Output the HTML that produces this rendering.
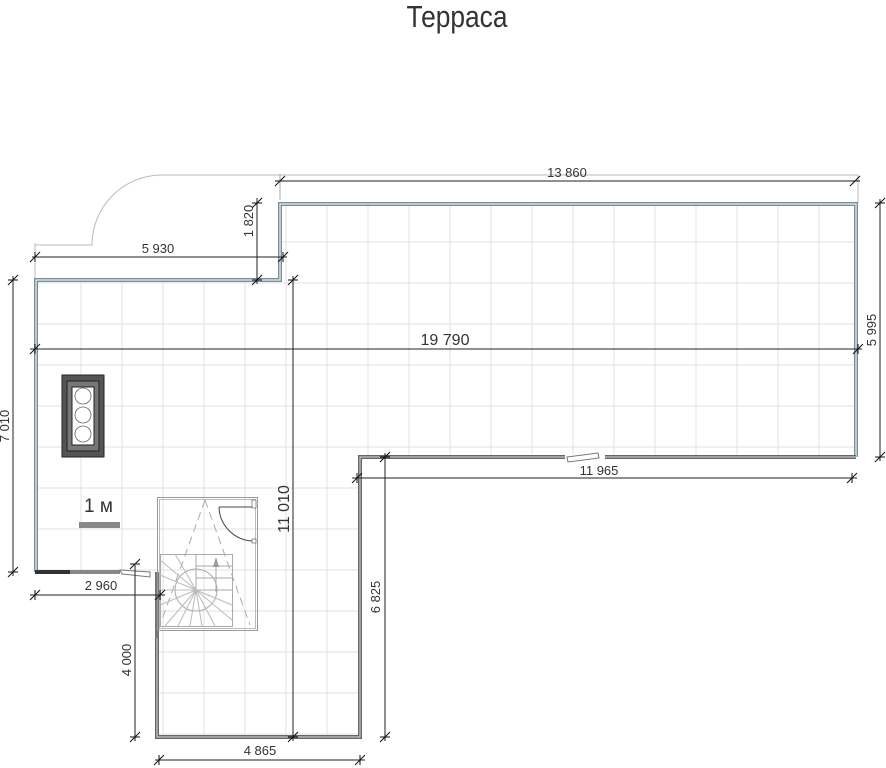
<!DOCTYPE html>
<html><head><meta charset="utf-8"><style>
html,body{margin:0;padding:0;background:#fff;width:886px;height:768px;overflow:hidden}
svg{display:block}
text{font-family:"Liberation Sans",sans-serif;fill:#333}
</style></head><body>
<svg width="886" height="768" viewBox="0 0 886 768" xmlns="http://www.w3.org/2000/svg">
<defs>
<clipPath id="fl"><polygon points="35,280 280,280 280,204 856,204 856,457 360,457 360,737 157,737 157,572 35,572"/></clipPath>
<clipPath id="st"><rect x="160" y="554" width="73" height="73"/></clipPath>
</defs>
<text x="457" y="27" font-size="31" text-anchor="middle" transform="translate(457,0) scale(0.85,1) translate(-457,0)">Терраса</text>

<g clip-path="url(#fl)" stroke="#e2e2e2" stroke-width="1">
<line x1="81" y1="150" x2="81" y2="740"/><line x1="122" y1="150" x2="122" y2="740"/><line x1="163" y1="150" x2="163" y2="740"/><line x1="204" y1="150" x2="204" y2="740"/><line x1="245" y1="150" x2="245" y2="740"/><line x1="286" y1="150" x2="286" y2="740"/><line x1="327" y1="150" x2="327" y2="740"/><line x1="368" y1="150" x2="368" y2="740"/><line x1="409" y1="150" x2="409" y2="740"/><line x1="450" y1="150" x2="450" y2="740"/><line x1="491" y1="150" x2="491" y2="740"/><line x1="532" y1="150" x2="532" y2="740"/><line x1="573" y1="150" x2="573" y2="740"/><line x1="614" y1="150" x2="614" y2="740"/><line x1="655" y1="150" x2="655" y2="740"/><line x1="696" y1="150" x2="696" y2="740"/><line x1="737" y1="150" x2="737" y2="740"/><line x1="778" y1="150" x2="778" y2="740"/><line x1="819" y1="150" x2="819" y2="740"/>
<line x1="0" y1="242" x2="886" y2="242"/><line x1="0" y1="283" x2="886" y2="283"/><line x1="0" y1="324" x2="886" y2="324"/><line x1="0" y1="365" x2="886" y2="365"/><line x1="0" y1="406" x2="886" y2="406"/><line x1="0" y1="447" x2="886" y2="447"/><line x1="0" y1="488" x2="886" y2="488"/><line x1="0" y1="529" x2="886" y2="529"/><line x1="0" y1="570" x2="886" y2="570"/><line x1="0" y1="611" x2="886" y2="611"/><line x1="0" y1="652" x2="886" y2="652"/><line x1="0" y1="693" x2="886" y2="693"/><line x1="0" y1="734" x2="886" y2="734"/>
</g>

<path d="M35,243 V280 M35,245 H92 A70,70 0 0 1 162,175 H858 V203" fill="none" stroke="#bbb" stroke-width="1"/>

<g fill="none" stroke-linejoin="miter">
<path d="M36,572 V280 H280 V204 H856 V457" stroke="#7d8c93" stroke-width="4"/>
<path d="M36,572 V280 H280 V204 H856 V457" stroke="#cfe0e6" stroke-width="1.5"/>
<path d="M856,457 H360 V737 H157 V633" stroke="#666" stroke-width="4"/>
<path d="M856,457 H360 V737 H157 V633" stroke="#ddd" stroke-width="1"/>
</g>
<rect x="35" y="570" width="35" height="4" fill="#333"/>
<rect x="70" y="570" width="50" height="4" fill="#888"/>
<rect x="155" y="572" width="4" height="66" fill="#777"/>
<path d="M120,570 L150,572 L150,577 L122,574 Z" fill="#fff" stroke="#777" stroke-width="1"/>
<rect x="565" y="454" width="40" height="6" fill="#fff"/>
<path d="M567,457 L598,453 L599,458 L568,462 Z" fill="#fff" stroke="#777" stroke-width="1"/>

<rect x="157.5" y="497.5" width="100" height="133" fill="none" stroke="#999" stroke-width="1"/>
<rect x="159.5" y="499.5" width="96" height="129" fill="none" stroke="#bbb" stroke-width="1"/>
<path d="M219,507 A35,35 0 0 0 253,541" fill="none" stroke="#444" stroke-width="1"/>
<line x1="219" y1="507" x2="255" y2="507" stroke="#444"/>
<rect x="252" y="500" width="4" height="8" fill="#fff" stroke="#666" stroke-width="0.7"/>
<rect x="252" y="539" width="4" height="4" fill="#fff" stroke="#666" stroke-width="0.7"/>
<g stroke="#aaa" stroke-width="1" fill="none">
<path d="M205,500 L160,625 M205,500 L250,625" stroke-dasharray="8,5"/>
<rect x="160.5" y="554.5" width="72" height="72"/>
<line x1="196" y1="554" x2="196" y2="590"/>
<line x1="196" y1="566" x2="232" y2="566"/><line x1="196" y1="578" x2="232" y2="578"/><line x1="196" y1="590" x2="232" y2="590"/>
<g clip-path="url(#st)">
<circle cx="196" cy="590" r="21"/>
<g stroke="#bbb">
<line x1="196" y1="590" x2="160" y2="560"/><line x1="196" y1="590" x2="160" y2="575"/><line x1="196" y1="590" x2="160" y2="590"/><line x1="196" y1="590" x2="160" y2="605"/><line x1="196" y1="590" x2="165" y2="626"/><line x1="196" y1="590" x2="178" y2="626"/><line x1="196" y1="590" x2="190" y2="626"/><line x1="196" y1="590" x2="202" y2="626"/><line x1="196" y1="590" x2="215" y2="626"/><line x1="196" y1="590" x2="232" y2="620"/><line x1="196" y1="590" x2="232" y2="605"/><line x1="196" y1="590" x2="175" y2="554"/>
</g>
</g>
<line x1="216" y1="592" x2="216" y2="560"/>
</g>
<path d="M213,567 L216,557 L219,567 Z" fill="#999"/>

<rect x="62" y="375" width="42" height="82" fill="#555" stroke="#222" stroke-width="1"/>
<rect x="67" y="381" width="32" height="70" fill="#777" stroke="#222" stroke-width="1"/>
<rect x="72" y="387" width="22" height="58" fill="#fff" stroke="#222" stroke-width="1"/>
<g fill="#fff" stroke="#666" stroke-width="0.8"><circle cx="83" cy="396" r="8"/><circle cx="83" cy="415" r="8"/><circle cx="83" cy="434" r="8"/></g>

<text x="84" y="512" font-size="19">1 м</text>
<rect x="79" y="522" width="41" height="6" fill="#888"/>

<g stroke="#222" stroke-width="1" fill="none">
<line x1="275" y1="181" x2="860" y2="181"/>
<line x1="280" y1="174" x2="280" y2="200" stroke="#aaa"/>
<line x1="257" y1="198" x2="257" y2="284"/>
<line x1="32" y1="257" x2="287" y2="257"/>
<line x1="13" y1="276" x2="13" y2="576"/>
<line x1="30" y1="349" x2="862" y2="349"/>
<line x1="880" y1="199" x2="880" y2="461"/>
<line x1="352" y1="478" x2="857" y2="478"/>
<line x1="293" y1="276" x2="293" y2="741"/>
<line x1="385" y1="453" x2="385" y2="741"/>
<line x1="30" y1="595" x2="165" y2="595"/>
<line x1="135" y1="565" x2="135" y2="741"/>
<line x1="155" y1="760" x2="365" y2="760"/>
<g stroke="#111">
<path d="M275,186 l10,-10 M275,181 h10 M850,186 l10,-10 M850,181 h10"/>
<path d="M252,208 l10,-10 M252,203 h10 M252,285 l10,-10 M252,280 h10"/>
<path d="M30,262 l10,-10 M35,252 v10 M278,262 l10,-10 M283,252 v10"/>
<path d="M8,285 l10,-10 M8,280 h10 M8,577 l10,-10 M8,572 h10"/>
<path d="M30,354 l10,-10 M35,344 v10 M853,354 l10,-10 M858,344 v10"/>
<path d="M875,208 l10,-10 M875,203 h10 M875,462 l10,-10 M875,457 h10"/>
<path d="M352,483 l10,-10 M357,473 v10 M847,483 l10,-10 M852,473 v10"/>
<path d="M288,285 l10,-10 M288,280 h10 M288,742 l10,-10 M288,737 h10"/>
<path d="M380,462 l10,-10 M380,457 h10 M380,742 l10,-10 M380,737 h10"/>
<path d="M30,600 l10,-10 M35,590 v10 M155,600 l10,-10 M160,590 v10"/>
<path d="M130,569 l10,-10 M130,564 h10 M130,742 l10,-10 M130,737 h10"/>
<path d="M154,765 l10,-10 M159,755 v10 M355,765 l10,-10 M360,755 v10"/>
</g>
</g>
<g font-size="13">
<text x="567" y="177" text-anchor="middle">13 860</text>
<text x="158" y="253" text-anchor="middle">5 930</text>
<text transform="translate(253,221) rotate(-90)" text-anchor="middle">1 820</text>
<text transform="translate(9,426) rotate(-90)" text-anchor="middle">7 010</text>
<text transform="translate(876,330) rotate(-90)" text-anchor="middle">5 995</text>
<text x="599" y="475" text-anchor="middle">11 965</text>
<text x="101" y="590" text-anchor="middle">2 960</text>
<text transform="translate(131,660) rotate(-90)" text-anchor="middle">4 000</text>
<text x="260" y="755" text-anchor="middle">4 865</text>
<text transform="translate(380,597) rotate(-90)" text-anchor="middle">6 825</text>
</g>
<text x="445" y="345" font-size="16" text-anchor="middle">19 790</text>
<text transform="translate(289,509) rotate(-90)" font-size="16" text-anchor="middle">11 010</text>
</svg>
</body></html>
